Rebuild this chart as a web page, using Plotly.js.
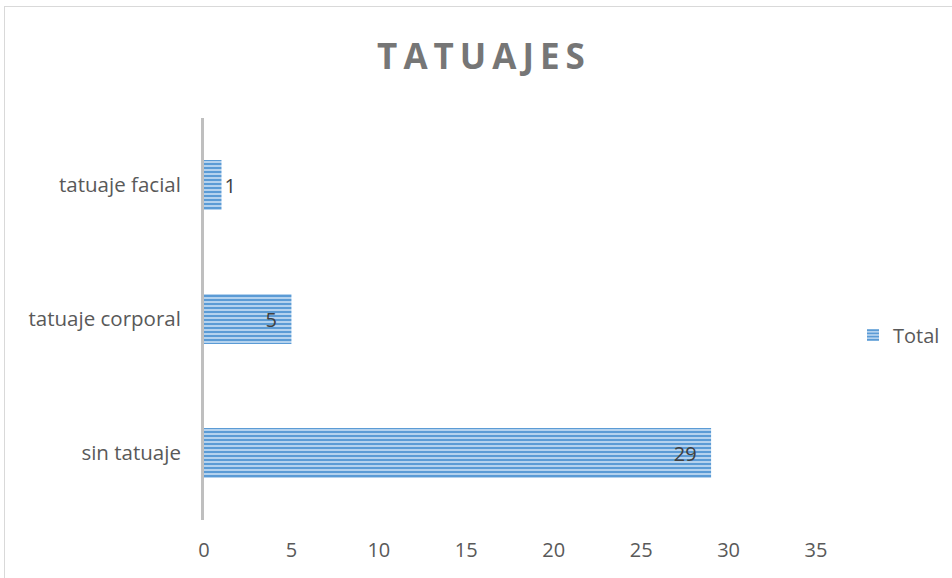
<!DOCTYPE html>
<html>
<head>
<meta charset="utf-8">
<script src="https://cdn.plot.ly/plotly-3.0.1.min.js"></script>
<style>
  html, body { margin: 0; padding: 0; background: #fff; overflow: hidden; }
  #frame { position: absolute; left: 4px; top: 6px; width: 1000px; height: 640px; border: 1px solid #d9d9d9; box-sizing: border-box; pointer-events: none; z-index: 5; }
  #chart { position: absolute; left: 0; top: 0; width: 952px; height: 578px; }
  .gtitle { letter-spacing: 6px; }
</style>
</head>
<body>
<div id="chart"></div>
<div id="frame"></div>
<script>
const categories = ["sin tatuaje", "tatuaje corporal", "tatuaje facial"];
const totals = [29, 5, 1];
const labelPositions = ["inside", "inside", "outside"];
const xTickVals = [0, 5, 10, 15, 20, 25, 30, 35];

const FONT = "Open Sans, Liberation Sans, sans-serif";

const trace = {
  type: "bar",
  orientation: "h",
  name: "Total",
  y: categories,
  x: totals,
  text: totals.map(String),
  texttemplate: totals.map((v, i) => labelPositions[i] === "inside" ? "%{text}\u2007" : "%{text}"),
  textposition: labelPositions,
  insidetextanchor: "end",
  textfont: { family: FONT, size: 20, color: "#404040" },
  outsidetextfont: { family: FONT, size: 20, color: "#404040" },
  cliponaxis: false,
  marker: {
    color: "#a9cbea",
    line: { width: 0 },
    pattern: { shape: "-", fgcolor: "#5b9bd5", bgcolor: "#b4d2ee", size: 4, solidity: 0.5 }
  },
  hoverinfo: "skip"
};

const layout = {
  width: 952,
  height: 578,
  margin: { l: 204, r: 136, t: 118, b: 58, autoexpand: false },
  paper_bgcolor: "#ffffff",
  plot_bgcolor: "#ffffff",
  bargap: 0.627,
  showlegend: true,
  title: {
    text: "<b>TATUAJES</b>",
    xref: "container",
    x: 484 / 952,
    xanchor: "center",
    yref: "container",
    y: 1 - 57 / 578,
    yanchor: "middle",
    font: { family: FONT, size: 35, color: "#767676" }
  },
  xaxis: {
    range: [0, 35],
    tickvals: xTickVals,
    showgrid: false,
    zeroline: false,
    showline: false,
    ticks: "",
    ticklabelstandoff: 16,
    tickfont: { family: FONT, size: 20, color: "#595959" },
    fixedrange: true
  },
  yaxis: {
    type: "category",
    categoryorder: "array",
    categoryarray: categories,
    range: [-0.5, 2.5],
    showgrid: false,
    zeroline: false,
    showline: true,
    linecolor: "#bfbfbf",
    linewidth: 3,
    ticks: "",
    ticklabelstandoff: 16,
    tickfont: { family: FONT, size: 20.5, color: "#595959" },
    fixedrange: true
  },
  legend: {
    x: (853 - 204) / 612,
    xanchor: "left",
    y: (520 - 335) / 402,
    yanchor: "middle",
    font: { family: FONT, size: 20, color: "#595959" },
    itemwidth: 30,
    bgcolor: "rgba(0,0,0,0)"
  }
};

Plotly.newPlot("chart", [trace], layout, { displayModeBar: false, staticPlot: true });
</script>
</body>
</html>
